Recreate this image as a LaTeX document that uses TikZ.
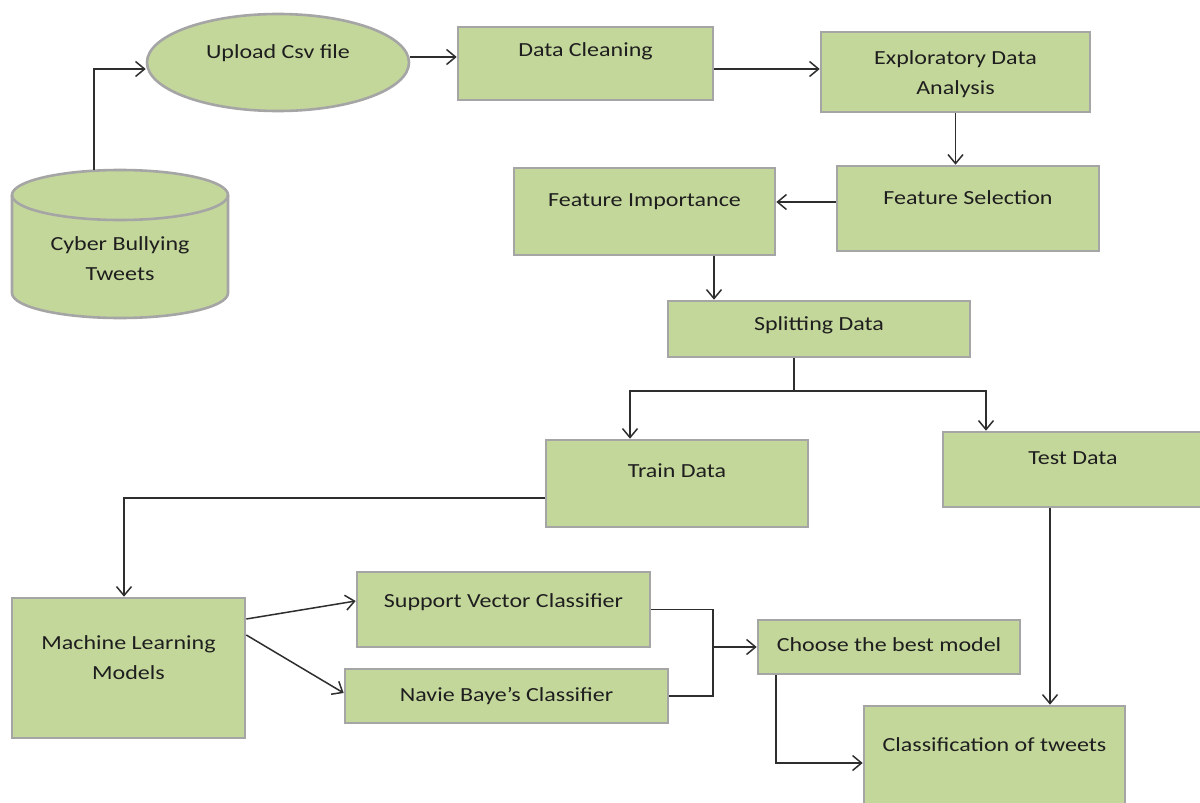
\documentclass[tikz,border=0pt]{standalone}
\usepackage{fontspec}
\setmainfont{Carlito}[FakeStretch=1.2]
\usetikzlibrary{arrows.meta,shapes.geometric}
\definecolor{boxfill}{HTML}{C4D79B}
\definecolor{boxline}{HTML}{A5A5A5}
\definecolor{conn}{HTML}{2E2E2E}
\definecolor{txt}{HTML}{1E1E1E}
\newcommand{\twoline}[2]{\begin{tabular}[b]{@{}c@{}}#1\\#2\end{tabular}}
\begin{document}
\begin{tikzpicture}[x=1pt,y=-1pt,
  lbl/.style={text=txt, font=\fontsize{20}{30}\selectfont, inner sep=0pt, text height=14pt},
  box/.style={lbl, draw=boxline, line width=2.6pt, fill=boxfill, rectangle},
  arr/.style={draw=conn, line width=1.5pt, -{Straight Barb[length=9pt,width=15pt,line width=1.5pt]}},
  ln/.style={draw=conn, line width=1.5pt}]
\useasboundingbox (0,0) rectangle (1200,803);
\fill[white] (0,0) rectangle (1200,803);

% cylinder
\draw[draw=boxline, line width=2.6pt, fill=boxfill] (12,195) -- (12,293)
  arc[start angle=180, end angle=0, x radius=108, y radius=25] -- (228,195)
  arc[start angle=0, end angle=-180, x radius=108, y radius=25] -- cycle;
\draw[draw=boxline, line width=2.6pt] (12,195) arc[start angle=180, end angle=0, x radius=108, y radius=25];
\node[lbl, minimum width=216pt, minimum height=148pt, text height=73pt, text depth=0pt] (db) at (120,244) {\twoline{Cyber Bullying}{Tweets}};

\node[box, ellipse, minimum width=262pt, minimum height=97pt, text depth=22pt] (up) at (278,62.5) {Upload Csv file};
\node[box, minimum width=255pt, minimum height=73pt, text depth=28pt] (dc) at (585.5,63.5) {Data Cleaning};
\node[box, minimum width=269pt, minimum height=80pt, text height=45pt, text depth=0pt] (eda) at (955.5,72) {\twoline{Exploratory Data}{Analysis}};
\node[box, minimum width=262pt, minimum height=85pt, text depth=22pt] (fs) at (968,208.5) {Feature Selection};
\node[box, minimum width=261pt, minimum height=87pt, text depth=24pt] (fi) at (644.5,211.5) {Feature Importance};
\node[box, minimum width=302pt, minimum height=56pt, text depth=11pt] (sd) at (819,329) {Splitting Data};
\node[box, minimum width=262pt, minimum height=87pt, text depth=26pt] (tr) at (677,483.5) {Train Data};
\node[box, minimum width=260pt, minimum height=75pt, text depth=24pt] (te) at (1073,469.5) {Test Data};
\node[box, minimum width=233pt, minimum height=140pt, text height=44pt, text depth=22pt] (ml) at (128.5,668) {\twoline{Machine Learning}{Models}};
\node[box, minimum width=293pt, minimum height=75pt, text depth=18pt] (svc) at (503.5,609.5) {Support Vector Classifier};
\node[box, minimum width=323pt, minimum height=54pt, text depth=3pt] (nb) at (506.5,696) {Navie Baye’s Classifier};
\node[box, minimum width=262pt, minimum height=54pt, text depth=5pt] (cb) at (889,647) {Choose the best model};
\node[box, minimum width=261pt, minimum height=114pt, text depth=37pt] (ct) at (994.5,763) {Classification of tweets};

\coordinate (br) at (794,391);
\coordinate (mg) at (713,647);

\draw[arr] ([xshift=-26pt]db.north) |- ([yshift=-6.5pt]up.west);
\draw[arr] ([yshift=5.5pt]up.east) -- ([yshift=5.5pt]up.east -| dc.west);
\draw[arr] ([yshift=-5.5pt]dc.east) -- ([yshift=-5.5pt]dc.east -| eda.west);
\draw[arr] (eda.south) -- (eda.south |- fs.north);
\draw[arr] ([yshift=6.5pt]fs.west) -- ([yshift=6.5pt]fs.west -| fi.east);
\draw[arr] ([xshift=69.5pt]fi.south) -- ([xshift=69.5pt]fi.south |- sd.north);
\draw[ln] ([xshift=-25pt]sd.south) -- (br);
\draw[arr] (br) -| ([xshift=-47pt]tr.north);
\draw[arr] (br) -| ([xshift=-87pt]te.north);
\draw[arr] ([yshift=-14.5pt]tr.west) -| ([xshift=-4.5pt]ml.north);
\draw[arr] ([yshift=49pt]ml.east) -- ([yshift=8.5pt]svc.west);
\draw[arr] ([yshift=33pt]ml.east) -- ([yshift=3pt]nb.west);
\draw[ln] (svc.east) -| (mg);
\draw[ln] (nb.east) -| (mg);
\draw[arr] (mg) -- (cb.west);
\draw[arr] ([xshift=-113pt]cb.south) |- (ct.west);
\draw[arr] ([xshift=-23pt]te.south) -- ([xshift=-23pt]te.south |- ct.north);
\end{tikzpicture}
\end{document}
